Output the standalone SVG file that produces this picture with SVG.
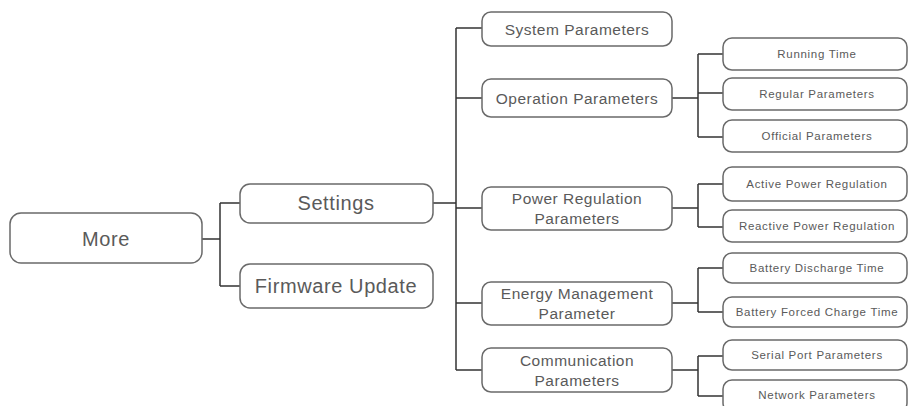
<svg xmlns="http://www.w3.org/2000/svg" width="909" height="406" viewBox="0 0 909 406">
<style>
.box{fill:#fff;stroke:#6a6a6a;stroke-width:1.5}
.t{font-family:"Liberation Sans",Arial,sans-serif;fill:#5a5a5a;text-anchor:middle;dominant-baseline:central}
.t1{font-size:20px;letter-spacing:0.6px}
.t2{font-size:15.5px;letter-spacing:0.5px}
.t3{font-size:11.5px;letter-spacing:0.7px}
.c{fill:none;stroke:#333;stroke-width:1.5}
</style>
<rect width="909" height="406" fill="#fff"/>
<g id="connectors">
<path class="c" d="M202 239H220M220 203V286M220 203H240M220 286H240"/>
<path class="c" d="M433 203H456M456 28V370M456 28H482M456 98H482M456 208H482M456 303H482M456 370H482"/>
<path class="c" d="M672 98H698M698 54V137M698 54H723M698 93H723M698 137H723"/>
<path class="c" d="M672 208H698M698 184V227M698 184H723M698 227H723"/>
<path class="c" d="M672 303H698M698 268V312M698 268H723M698 312H723"/>
<path class="c" d="M672 370H698M698 356V396M698 356H723M698 396H723"/>
</g>
<g id="more"><rect class="box" x="10" y="213" width="192" height="50" rx="11"/><text class="t t1" x="106" y="239">More</text></g>
<g id="settings"><rect class="box" x="240" y="184" width="193" height="39" rx="10"/><text class="t t1" x="336" y="203">Settings</text></g>
<g id="firmware"><rect class="box" x="240" y="264" width="193" height="44" rx="10"/><text class="t t1" x="336" y="286">Firmware Update</text></g>
<g id="system"><rect class="box" x="482" y="12" width="190" height="34" rx="9"/><text class="t t2" x="577" y="29">System Parameters</text></g>
<g id="operation"><rect class="box" x="482" y="79" width="190" height="38" rx="9"/><text class="t t2" x="577" y="98">Operation Parameters</text></g>
<g id="power"><rect class="box" x="482" y="187" width="190" height="43" rx="9"/><text class="t t2" x="577" y="198">Power Regulation</text><text class="t t2" x="577" y="218">Parameters</text></g>
<g id="energy"><rect class="box" x="482" y="282" width="190" height="43" rx="9"/><text class="t t2" x="577" y="293">Energy Management</text><text class="t t2" x="577" y="313">Parameter</text></g>
<g id="communication"><rect class="box" x="482" y="348" width="190" height="44" rx="9"/><text class="t t2" x="577" y="360">Communication</text><text class="t t2" x="577" y="380">Parameters</text></g>
<g id="running"><rect class="box" x="723" y="38" width="184" height="32" rx="9"/><text class="t t3" x="817" y="54">Running Time</text></g>
<g id="regular"><rect class="box" x="723" y="78" width="184" height="32" rx="9"/><text class="t t3" x="817" y="94">Regular Parameters</text></g>
<g id="official"><rect class="box" x="723" y="120" width="184" height="32" rx="9"/><text class="t t3" x="817" y="136">Official Parameters</text></g>
<g id="active"><rect class="box" x="723" y="167" width="184" height="34" rx="9"/><text class="t t3" x="817" y="184">Active Power Regulation</text></g>
<g id="reactive"><rect class="box" x="723" y="210" width="184" height="32" rx="9"/><text class="t t3" x="817" y="226">Reactive Power Regulation</text></g>
<g id="discharge"><rect class="box" x="723" y="253" width="184" height="30" rx="9"/><text class="t t3" x="817" y="268">Battery Discharge Time</text></g>
<g id="forced"><rect class="box" x="723" y="297" width="184" height="30" rx="9"/><text class="t t3" x="817" y="312">Battery Forced Charge Time</text></g>
<g id="serial"><rect class="box" x="723" y="340" width="184" height="30" rx="9"/><text class="t t3" x="817" y="355">Serial Port Parameters</text></g>
<g id="network"><rect class="box" x="723" y="380" width="184" height="32" rx="9"/><text class="t t3" x="817" y="395">Network Parameters</text></g>
</svg>
